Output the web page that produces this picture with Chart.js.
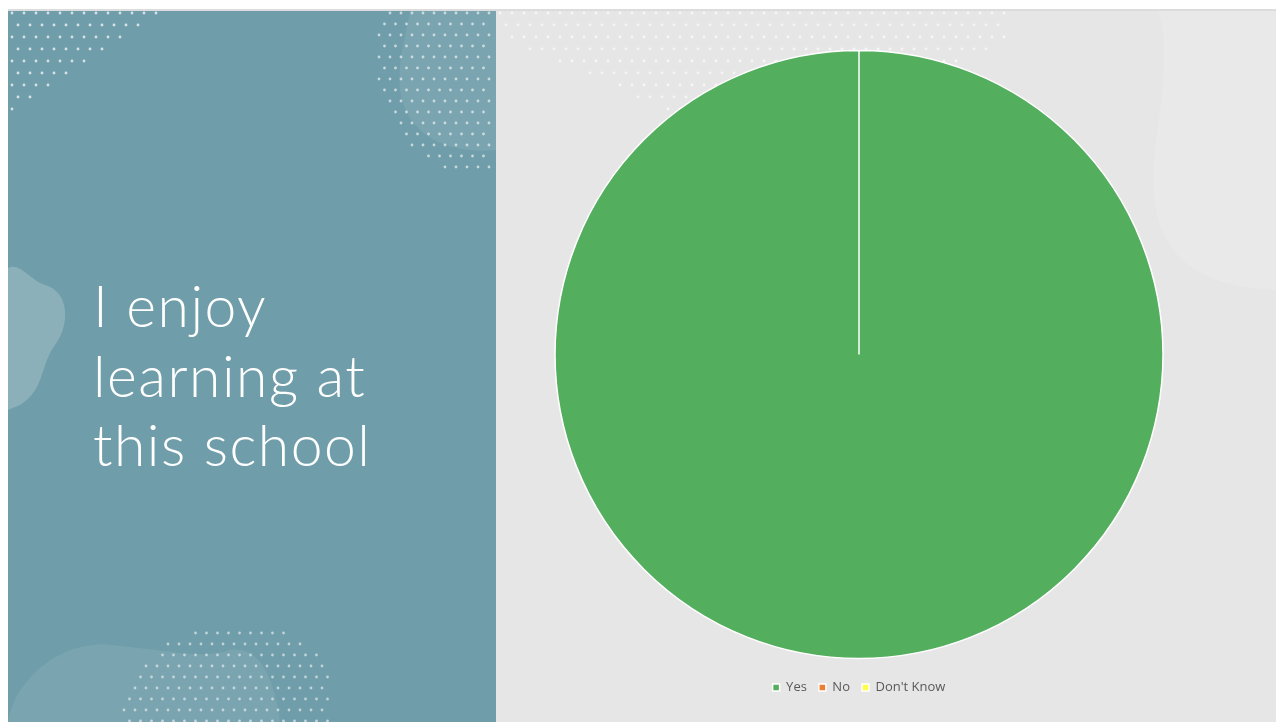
<!DOCTYPE html>
<html>
<head>
<meta charset="utf-8">
<script src="https://cdn.jsdelivr.net/npm/chart.js@4.4.0/dist/chart.umd.min.js"></script>
<style>
  html, body { margin: 0; padding: 0; width: 1276px; height: 722px; overflow: hidden; background: #fff; }
  #deco { position: absolute; left: 0; top: 0; }
  #title {
    position: absolute; left: 93px; top: 271px;
    font-family: 'Lato', 'Open Sans', sans-serif; font-weight: 300;
    font-size: 57px; line-height: 69.5px; letter-spacing: 1.5px; color: #fff; margin: 0;
  }
  #chartBox { position: absolute; left: 496px; top: 40px; width: 726px; height: 664px; }
</style>
</head>
<body>
<canvas id="deco" width="1276" height="722"></canvas>
<h1 id="title">I enjoy<br>learning at<br>this school</h1>
<div id="chartBox"><canvas id="pie"></canvas></div>
<script>
const categories = ['Yes', 'No', "Don't Know"];
const responses = [100, 0, 0];
const sliceColors = ['#53ae5d', '#ed7d31', '#ffff4a'];

// slide background and decorations
function drawBackground() {
  const c = document.getElementById('deco').getContext('2d');
  c.fillStyle = '#ffffff';
  c.fillRect(0, 0, 1276, 722);
  c.fillStyle = '#dcdcdc';
  c.fillRect(8, 9, 1268, 2);
  // teal panel
  c.fillStyle = '#6f9da9';
  c.fillRect(8, 11, 488, 711);
  // grey panel
  c.fillStyle = '#e6e6e6';
  c.fillRect(496, 11, 780, 711);

  // soft blobs
  c.save();
  c.beginPath(); c.rect(8, 11, 488, 711); c.clip();
  c.fillStyle = '#8bb0b9';
  c.beginPath();
  c.moveTo(8, 268);
  c.bezierCurveTo(20, 262, 30, 280, 45, 285);
  c.bezierCurveTo(70, 292, 70, 325, 55, 345);
  c.bezierCurveTo(40, 365, 45, 390, 20, 405);
  c.lineTo(8, 410);
  c.closePath(); c.fill();

  c.fillStyle = '#7aa5b0';
  c.beginPath();
  c.moveTo(8, 722);
  c.bezierCurveTo(15, 680, 60, 640, 110, 645);
  c.bezierCurveTo(170, 650, 200, 660, 230, 650);
  c.bezierCurveTo(260, 645, 275, 680, 280, 722);
  c.closePath(); c.fill();

  c.beginPath();
  c.moveTo(410, 11);
  c.bezierCurveTo(405, 40, 395, 70, 402, 100);
  c.bezierCurveTo(410, 130, 440, 155, 496, 150);
  c.lineTo(496, 11);
  c.closePath(); c.fill();
  c.restore();

  c.fillStyle = '#e9e9e9';
  c.beginPath();
  c.moveTo(1158, 11);
  c.bezierCurveTo(1170, 40, 1162, 100, 1155, 150);
  c.bezierCurveTo(1148, 220, 1160, 285, 1276, 290);
  c.lineTo(1276, 11);
  c.closePath(); c.fill();

  // dot fields
  function dots(x0, y0, x1, y1, step, color, inside) {
    c.fillStyle = color;
    for (let y = y0; y < y1; y += step) {
      const shift = ((y - y0) / step) % 2 ? step / 2 : 0;
      for (let x = x0 + shift; x < x1; x += step) {
        if (inside(x, y)) {
          c.beginPath(); c.arc(x, y, 1.4, 0, Math.PI * 2); c.fill();
        }
      }
    }
  }
  dots(12, 13, 170, 115, 12, 'rgba(235,240,242,0.85)', (x, y) => x + (y - 13) * 1.5 < 168);
  dots(368, 13, 494, 176, 11, 'rgba(230,238,240,0.75)', (x, y) => Math.hypot(x - 500, y - 60) < 125);
  dots(80, 622, 330, 722, 11, 'rgba(225,235,238,0.7)', (x, y) => Math.hypot(x - 235, y - 740) < 118);
  dots(500, 13, 1010, 150, 12, 'rgba(250,250,250,0.8)', (x, y) => (y - 13) < 140 - Math.abs(x - 760) * 0.45);
}
drawBackground();

new Chart(document.getElementById('pie'), {
  type: 'pie',
  data: {
    labels: categories,
    datasets: [{
      data: responses,
      backgroundColor: sliceColors,
      borderColor: '#ffffff',
      borderWidth: 1.5,
      radius: 304
    }]
  },
  options: {
    responsive: true,
    maintainAspectRatio: false,
    animation: false,
    layout: { padding: 0 },
    plugins: {
      tooltip: { enabled: false },
      legend: {
        position: 'bottom',
        labels: {
          boxWidth: 7,
          boxHeight: 7,
          padding: 12,
          color: '#595959',
          font: { family: "'Open Sans', 'Liberation Sans', sans-serif", size: 13 }
        }
      }
    }
  }
});
</script>
</body>
</html>
